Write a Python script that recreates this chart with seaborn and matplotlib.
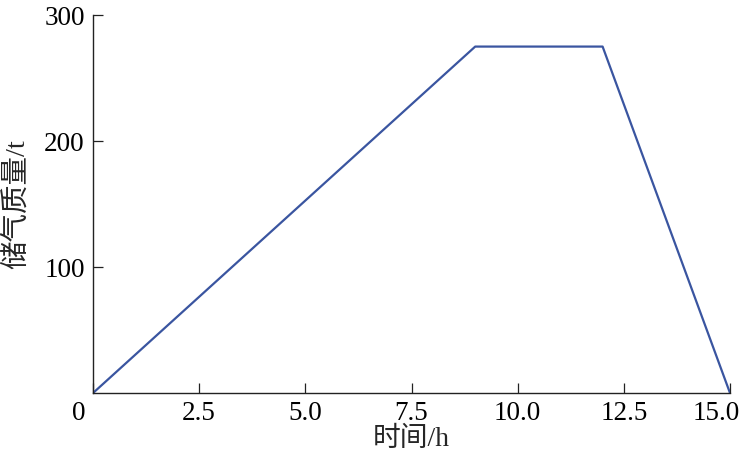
import matplotlib
matplotlib.use("Agg")
import matplotlib.pyplot as plt
import matplotlib.transforms as mtransforms
import seaborn as sns
import pandas as pd

# storage mass over time
hours = [0, 9, 12, 15]
mass = [0, 275, 275, 0]
x_ticks = [0, 2.5, 5.0, 7.5, 10.0, 12.5, 15.0]
x_tick_labels = ["0", "2.5", "5.0", "7.5", "10.0", "12.5", "15.0"]
y_ticks = [100, 200, 300]
y_tick_labels = ["100", "200", "300"]

sns.set_style("ticks")
plt.rcParams["font.family"] = ["Liberation Serif", "Noto Sans CJK SC"]
plt.rcParams["axes.unicode_minus"] = False

df = pd.DataFrame({"time": hours, "mass": mass})

fig = plt.figure(figsize=(7.43, 4.57), dpi=100)
ax = fig.add_axes([0.1252, 0.140, 0.8573, 0.827])
sns.lineplot(data=df, x="time", y="mass", ax=ax, color="#3a55a0", linewidth=1.6)

ax.set_xlim(0, 15)
ax.set_ylim(0, 300)
ax.set_xticks(x_ticks)
ax.set_xticklabels(x_tick_labels)
ax.set_yticks(y_ticks)
ax.set_yticklabels(y_tick_labels)
ax.tick_params(direction="in", length=7, width=0.9, colors="#222222",
               labelsize=19.5, labelcolor="black", pad=6)

# nudge the first and last x labels so they sit inside the figure
labels = ax.get_xticklabels()
for lbl, dx in [(labels[0], -14), (labels[-1], -14)]:
    lbl.set_transform(lbl.get_transform() + mtransforms.ScaledTranslation(dx / 100, 0, fig.dpi_scale_trans))

for s in ["top", "right"]:
    ax.spines[s].set_visible(False)
for s in ["left", "bottom"]:
    ax.spines[s].set_linewidth(1.0)
    ax.spines[s].set_color("#222222")

ax.set_xlabel("时间/h", fontsize=20, labelpad=0)
ax.set_ylabel("储气质量/t", fontsize=20.5, labelpad=10)

fig.savefig("out.png", dpi=100)
